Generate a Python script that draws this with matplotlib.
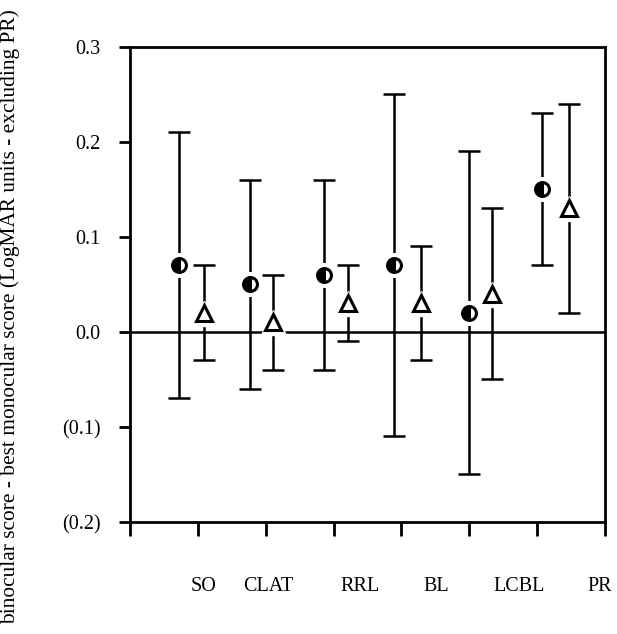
import numpy as np
import matplotlib
matplotlib.use('Agg')
import matplotlib.pyplot as plt

plt.rcParams['font.family'] = ['Liberation Serif', 'DejaVu Serif']

# test names shown along the bottom
tests = ['SO', 'CLAT', 'RRL', 'BL', 'LCBL', 'PR']

# series 1 (circles): mean, upper and lower limits
circ_x = [0.72, 1.77, 2.86, 3.89, 5.00, 6.07]
circ_mean = [0.07, 0.05, 0.06, 0.07, 0.02, 0.15]
circ_hi = [0.21, 0.16, 0.16, 0.25, 0.19, 0.23]
circ_lo = [-0.07, -0.06, -0.04, -0.11, -0.15, 0.07]

# series 2 (triangles)
tri_x = [1.09, 2.11, 3.21, 4.29, 5.33, 6.47]
tri_mean = [0.02, 0.01, 0.03, 0.03, 0.04, 0.13]
tri_hi = [0.07, 0.06, 0.07, 0.09, 0.13, 0.24]
tri_lo = [-0.03, -0.04, -0.01, -0.03, -0.05, 0.02]

# where the test names sit along x
label_x = [1.09, 2.04, 3.39, 4.52, 5.73, 6.92]

yticks = [0.3, 0.2, 0.1, 0.0, -0.1, -0.2]
ytick_labels = ['0.3', '0.2', '0.1', '0.0', '(0.1)', '(0.2)']


def draw_series(ax, x, mean, hi, lo, marker, face, size, alt=None):
    mean = np.array(mean)
    yerr = [mean - np.array(lo), np.array(hi) - mean]
    ax.errorbar(x, mean, yerr=yerr, fmt='none', ecolor='black',
                elinewidth=1.8, capsize=8, capthick=1.8, zorder=2)
    # white halo breaks the bar around each symbol
    ax.plot(x, mean, linestyle='none', marker=marker, markersize=size + 7,
            markerfacecolor='white', markeredgecolor='white', zorder=3)
    kw = dict(linestyle='none', marker=marker, markersize=size,
              markeredgecolor='black', markeredgewidth=2.2, zorder=4)
    if alt is not None:
        kw.update(fillstyle='left', markerfacecolor=face, markerfacecoloralt=alt)
    else:
        kw.update(markerfacecolor=face)
    ax.plot(x, mean, **kw)


fig = plt.figure(figsize=(6.17, 6.34), dpi=100)
ax = fig.add_axes([0.2107, 0.1767, 0.7698, 0.7492])

ax.axhline(0, color='black', linewidth=1.8, zorder=1)
draw_series(ax, circ_x, circ_mean, circ_hi, circ_lo, 'o', 'black', 10, alt='white')
draw_series(ax, tri_x, tri_mean, tri_hi, tri_lo, '^', 'white', 11)

ax.set_xlim(0, 7)
ax.set_ylim(-0.2, 0.3)
ax.set_xticks(range(8))
ax.set_xticklabels([])
ax.set_yticks(yticks)
ax.set_yticklabels(ytick_labels, fontsize=14.5)

for s in ax.spines.values():
    s.set_linewidth(2)
ax.tick_params(axis='x', direction='out', length=10, width=2)
ax.tick_params(axis='y', direction='out', length=8, width=2, pad=13)

for lx, name in zip(label_x, tests):
    ax.text(lx, -0.2675, name, ha='center', va='center', fontsize=14.5,
            clip_on=False)

fig.text(0.017, 0.5, 'binocular score - best monocular score (LogMAR units - excluding PR)',
         rotation=90, ha='center', va='center', fontsize=15.4)

fig.savefig('out.png', dpi=100)
